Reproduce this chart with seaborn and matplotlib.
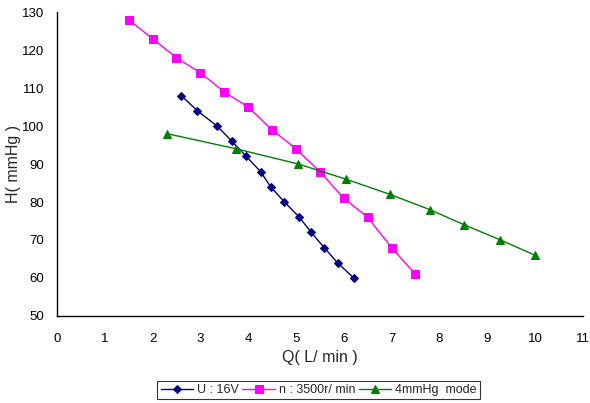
import matplotlib
matplotlib.use("Agg")
import matplotlib.pyplot as plt
import seaborn as sns
import pandas as pd

sns.set_style("white")
plt.rcParams['font.family'] = ['Liberation Sans', 'DejaVu Sans']

# Data
u_q = [2.6, 2.94, 3.35, 3.66, 3.96, 4.26, 4.47, 4.76, 5.07, 5.32, 5.59, 5.87, 6.21]
u_h = [108, 104, 100, 96, 92, 88, 84, 80, 76, 72, 68, 64, 60]
n_q = [1.5, 2.0, 2.5, 3.0, 3.5, 4.0, 4.5, 5.0, 5.5, 6.0, 6.5, 7.0, 7.5]
n_h = [128, 123, 118, 114, 109, 105, 99, 94, 88, 81, 76, 68, 61]
m_q = [2.3, 3.75, 5.05, 6.05, 6.97, 7.8, 8.52, 9.28, 10.0]
m_h = [98, 94, 90, 86, 82, 78, 74, 70, 66]
labels = ["U : 16V", "n : 3500r/ min", "4mmHg  mode"]
colors = ["#000080", "#FF00FF", "#008000"]
markers = ["D", "s", "^"]
msizes = [4, 5.5, 6]
xticks = list(range(0, 12))
yticks = list(range(50, 131, 10))

fig = plt.figure(figsize=(5.9, 4.03), dpi=100)
ax = fig.add_axes([0.0966, 0.216, 0.891, 0.754])

for (q, h), lab, c, mk, ms in zip([(u_q, u_h), (n_q, n_h), (m_q, m_h)], labels, colors, markers, msizes):
    df = pd.DataFrame({"Q": q, "H": h})
    sns.lineplot(data=df, x="Q", y="H", ax=ax, sort=False, color=c, marker=mk,
                 markersize=ms, markeredgecolor=c, linewidth=1.0, label=lab)

ax.set_xlim(0, 11)
ax.set_ylim(50, 130)
ax.set_xticks(xticks)
ax.set_yticks(yticks)
ax.tick_params(axis="both", direction="in", length=4, width=1, labelsize=9.5, colors="black")
ax.tick_params(axis="x", pad=12)
ax.tick_params(axis="y", pad=9)
for s in ["top", "right"]:
    ax.spines[s].set_visible(False)
for s in ["left", "bottom"]:
    ax.spines[s].set_color("black")
    ax.spines[s].set_linewidth(1.0)

ax.set_xlabel("Q( L/ min )", fontsize=11.5, labelpad=4)
ax.set_ylabel("H( mmHg )", fontsize=11.5, labelpad=1)

ax.legend_.remove()
handles, labs = ax.get_legend_handles_labels()
leg = fig.legend(handles, labs, loc="center", bbox_to_anchor=(0.54, 0.032), ncol=3,
                 frameon=True, fancybox=False, edgecolor="black", fontsize=9,
                 handlelength=2.6, handletextpad=0.3, columnspacing=0.3,
                 borderpad=0.25, borderaxespad=0)
leg.get_frame().set_linewidth(0.8)

fig.savefig("out.png", dpi=100)
